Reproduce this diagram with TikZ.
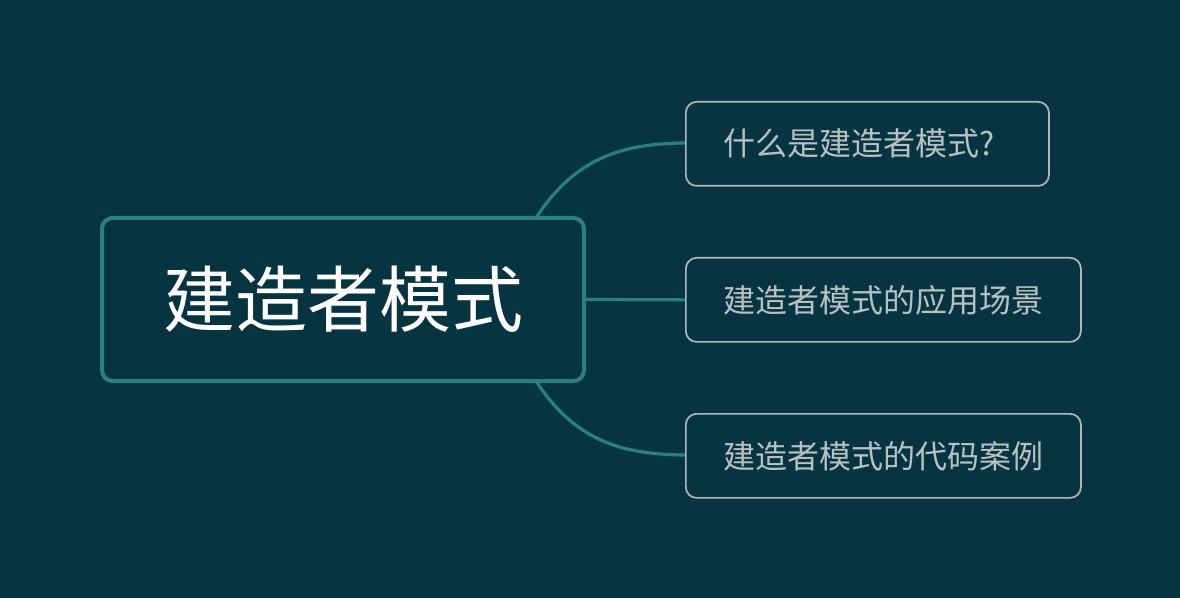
\documentclass[tikz,border=0pt]{standalone}
\usepackage{fontspec}
\setmainfont{Noto Sans CJK SC}
\definecolor{bg}{HTML}{063541}
\definecolor{teal}{HTML}{2B807E}
\definecolor{cborder}{HTML}{AEB8B8}
\definecolor{ctext}{HTML}{B8C1C1}
\tikzset{
  mainbox/.style={draw=teal, line width=3pt, rounded corners=8pt, fill=bg,
    minimum width=361.5pt, minimum height=122.25pt, text=white,
    font=\fontsize{54pt}{60pt}\selectfont, inner sep=0pt},
  childbox/.style={draw=cborder, line width=1.3pt, rounded corners=8pt, fill=bg,
    minimum height=63pt, text=ctext, align=left, inner xsep=28.5pt, inner ysep=0pt,
    font=\fontsize{24pt}{28pt}\selectfont, anchor=north west},
  link/.style={draw=teal, line width=2.4pt}
}
\begin{document}
\begin{tikzpicture}[x=0.75pt, y=-0.75pt]
\fill[bg] (0,0) rectangle (1180,598);
\useasboundingbox (0,0) rectangle (1180,598);
\coordinate (tstart) at (536,218);
\coordinate (bstart) at (536,381);
\draw[link] (tstart) .. controls (575,158) and (622,143) .. (688,143) coordinate (tend);
\draw[link] (bstart) .. controls (575,441) and (622,455) .. (688,455) coordinate (bend);
\node[mainbox] (main) at (343,299.5) {建造者模式};
\node[childbox, text width=215.25pt] (c1) at (685,101) {什么是建造者模式?};
\node[childbox, text width=239.25pt] (c2) at (685,257) {建造者模式的应用场景};
\node[childbox, text width=239.25pt] (c3) at (685,413) {建造者模式的代码案例};
\draw[link] (main.east) -- (c2.west);
\end{tikzpicture}
\end{document}
